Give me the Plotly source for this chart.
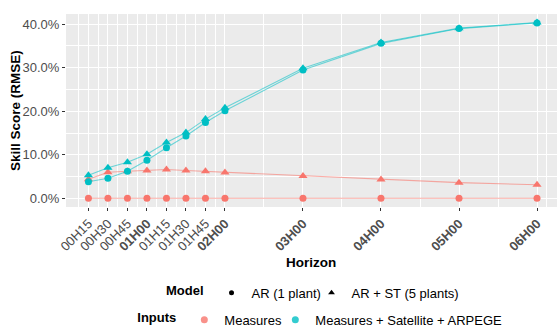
import plotly.graph_objects as go

# Forecast horizons (hours) and their labels
horizons = [0.25, 0.5, 0.75, 1.0, 1.25, 1.5, 1.75, 2.0, 3.0, 4.0, 5.0, 6.0]
horizon_labels = ["00H15", "00H30", "00H45", "<b>01H00</b>", "01H15", "01H30",
                  "01H45", "<b>02H00</b>", "<b>03H00</b>", "<b>04H00</b>",
                  "<b>05H00</b>", "<b>06H00</b>"]

# Skill score (RMSE, %) per model / input set
ar_measures = [0, 0, 0, 0, 0, 0, 0, 0, 0, 0, 0, 0]
arst_measures = [4.4, 6.0, 6.2, 6.4, 6.6, 6.4, 6.2, 5.9, 5.1, 4.3, 3.6, 3.1]
ar_satellite = [3.8, 4.6, 6.2, 8.75, 11.6, 14.3, 17.4, 20.1, 29.5, 35.6, 39.0, 40.3]
arst_satellite = [5.3, 7.0, 8.3, 10.1, 12.8, 15.1, 18.2, 20.8, 29.9, 35.8, 39.1, 40.4]

y_ticks = [0, 10, 20, 30, 40]
y_labels = ["0.0%", "10.0%", "20.0%", "30.0%", "40.0%"]

RED = "#F8766D"
TEAL = "#00BFC4"
RED_LINE = "rgba(248,118,109,0.6)"
TEAL_LINE = "rgba(0,191,196,0.55)"
FONT = "Liberation Sans, Arial, sans-serif"

fig = go.Figure()

series = [
    (ar_measures, RED, RED_LINE, "circle", 7),
    (arst_measures, RED, RED_LINE, "triangle-up", 8),
    (ar_satellite, TEAL, TEAL_LINE, "circle", 7),
    (arst_satellite, TEAL, TEAL_LINE, "triangle-up", 8),
]
for values, col, lcol, sym, size in series:
    fig.add_trace(go.Scatter(
        x=horizons, y=values, mode="lines+markers",
        line=dict(color=lcol, width=1.1),
        marker=dict(color=col, symbol=sym, size=size, line=dict(width=0)),
        showlegend=False, hoverinfo="skip",
    ))

# Legend entries: model (shape) and inputs (colour)
fig.add_trace(go.Scatter(x=[None], y=[None], mode="markers", name="AR (1 plant)",
                         marker=dict(color="black", symbol="circle", size=5),
                         legend="legend", legendwidth=55))
fig.add_trace(go.Scatter(x=[None], y=[None], mode="markers", name="AR + ST (5 plants)",
                         marker=dict(color="black", symbol="triangle-up", size=6),
                         legend="legend"))
fig.add_trace(go.Scatter(x=[None], y=[None], mode="markers", name="Measures",
                         marker=dict(color=RED, symbol="circle", size=7, opacity=0.8),
                         legend="legend2", legendwidth=46))
fig.add_trace(go.Scatter(x=[None], y=[None], mode="markers",
                         name="Measures + Satellite + ARPEGE",
                         marker=dict(color=TEAL, symbol="circle", size=7, opacity=0.8),
                         legend="legend2"))

minor_x = [0.125, 0.375, 0.625, 0.875, 1.125, 1.375, 1.625, 1.875,
           2.5, 3.5, 4.5, 5.5, 6.125]

fig.update_layout(
    width=557, height=329,
    margin=dict(l=66, r=0, t=14, b=122, autoexpand=False),
    paper_bgcolor="white", plot_bgcolor="#EBEBEB",
    font=dict(family=FONT, size=13, color="black"),
    xaxis=dict(
        range=[-0.0375, 6.256], tickmode="array", tickvals=horizons,
        ticktext=horizon_labels, tickangle=-45,
        tickfont=dict(family=FONT, size=13, color="#4D4D4D"),
        ticks="outside", ticklen=3, tickcolor="#333333", tickwidth=1,
        showgrid=True, gridcolor="white", gridwidth=1.1,
        zeroline=False, showline=False,
        minor=dict(tickmode="array", tickvals=minor_x, showgrid=True,
                   gridcolor="white", gridwidth=0.5, ticks=""),
    ),
    yaxis=dict(
        range=[-2.0, 42.35], tickmode="array", tickvals=y_ticks, ticktext=y_labels,
        tickfont=dict(family=FONT, size=13, color="#4D4D4D"),
        ticks="outside", ticklen=3, tickcolor="#333333", tickwidth=1,
        showgrid=True, gridcolor="white", gridwidth=1.1,
        zeroline=False, showline=False,
        minor=dict(tickmode="array", tickvals=[5, 15, 25, 35], showgrid=True,
                   gridcolor="white", gridwidth=0.5, ticks=""),
    ),
    legend=dict(
        orientation="h", x=0.505, xanchor="center", y=-0.445, yanchor="middle",
        title=dict(text="<b>Model</b>", side="left", font=dict(size=13)),
        font=dict(family=FONT, size=13, color="black"),
        itemwidth=30, bgcolor="rgba(0,0,0,0)", tracegroupgap=0,
    ),
    legend2=dict(
        orientation="h", x=0.52, xanchor="center", y=-0.585, yanchor="middle",
        title=dict(text="<b>Inputs</b>", side="left", font=dict(size=13)),
        font=dict(family=FONT, size=13, color="black"),
        itemwidth=30, bgcolor="rgba(0,0,0,0)", tracegroupgap=0,
    ),
    annotations=[
        dict(text="<b>Horizon</b>", xref="paper", yref="paper",
             x=0.499, y=(207 - 262) / 193, xanchor="center", yanchor="middle",
             showarrow=False, font=dict(family=FONT, size=13.5, color="black")),
        dict(text="<b>Skill Score (RMSE)</b>", xref="paper", yref="paper",
             x=(15.5 - 66) / 491, y=0.5, xanchor="center", yanchor="middle",
             textangle=-90, showarrow=False,
             font=dict(family=FONT, size=13.5, color="black")),
    ],
)

fig.write_html("out.html")
